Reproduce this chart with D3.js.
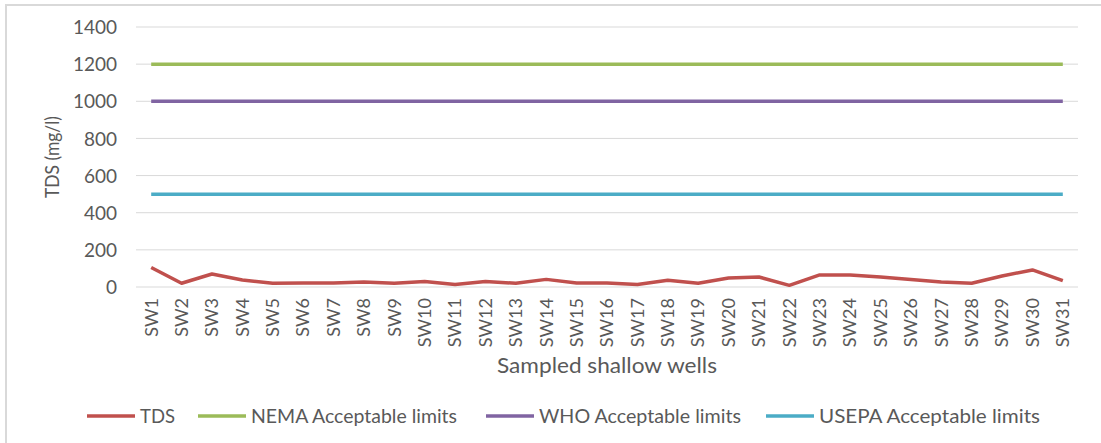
<!DOCTYPE html>
<html><head><meta charset="utf-8">
<script src="https://cdn.jsdelivr.net/npm/d3@7"></script>
<style>body{margin:0;background:#fff}svg{display:block}text{font-family:Lato,"Open Sans",sans-serif;fill:#595959}</style>
</head><body><svg id="c" width="1101" height="443"></svg>
<script>
const wells = d3.range(1,32).map(i=>"SW"+i);
const tds = [105,20,70,38,20,21,21,27,20,30,14,29,20,41,21,21,14,36,20,48,54,9,65,65,54,40,27,20,59,92,34];
const nema = 1200, who = 1000, usepa = 500;
const yTicks = [0,200,400,600,800,1000,1200,1400];
const seriesNames = ["TDS","NEMA Acceptable limits","WHO Acceptable limits","USEPA Acceptable limits"];
const colors = ["#c0504d","#9bbb59","#8064a2","#4bacc6"];

const svg = d3.select("#c");
// border
svg.append("path").attr("d","M6,443 L6,5 L1101,5").attr("fill","none").attr("stroke","#d9d9d9").attr("stroke-width",2);

const x = d3.scaleBand().domain(wells).range([136,1078]);
const y = d3.scaleLinear().domain([0,1400]).range([287,27]);
const cx = d => x(d)+x.bandwidth()/2;

// grid
svg.append("g").selectAll("line").data(yTicks).join("line")
  .attr("x1",136).attr("x2",1078).attr("y1",d=>y(d)).attr("y2",d=>y(d))
  .attr("stroke","#d9d9d9").attr("stroke-width",1);

// y axis
const ya = svg.append("g").attr("transform","translate(136,0)")
  .call(d3.axisLeft(y).tickValues(yTicks).tickFormat(d3.format("d")).tickSize(0).tickPadding(19));
ya.select(".domain").remove();
ya.selectAll("text").style("font-size","19px").style("fill","#595959").attr("dy","0.35em");

// x axis
const xa = svg.append("g").attr("transform","translate(0,287)")
  .call(d3.axisBottom(x).tickSize(0));
xa.select(".domain").remove();
xa.selectAll("text").style("font-size","18px").style("fill","#595959")
  .attr("text-anchor","end").attr("transform","rotate(-90)")
  .attr("x",-11).attr("y",0).attr("dy","0.35em");

// limit lines
const limits = [nema, who, usepa];
const line = d3.line().x(d=>cx(d.w)).y(d=>y(d.v));
limits.forEach((v,i)=>{
  svg.append("path").datum(wells.map(w=>({w,v})))
    .attr("d",line).attr("fill","none").attr("stroke",colors[i+1]).attr("stroke-width",3.5);
});
svg.append("path").datum(wells.map((w,i)=>({w,v:tds[i]})))
  .attr("d",line).attr("fill","none").attr("stroke",colors[0]).attr("stroke-width",3.5)
  .attr("stroke-linejoin","round");

// axis titles
svg.append("text").attr("transform","translate(59,157) rotate(-90)").attr("text-anchor","middle")
  .style("font-size","19px").attr("textLength",82).attr("lengthAdjust","spacingAndGlyphs").text("TDS (mg/l)");
svg.append("text").attr("x",607).attr("y",366).attr("dy","0.35em").attr("text-anchor","middle")
  .style("font-size","21px").attr("textLength",220).attr("lengthAdjust","spacingAndGlyphs").text("Sampled shallow wells");

// legend
const lx = [87,198,486,766];
const lw = [35,206,202,221];
const lg = svg.append("g");
seriesNames.forEach((n,i)=>{
  lg.append("line").attr("x1",lx[i]).attr("x2",lx[i]+48).attr("y1",416).attr("y2",416)
    .attr("stroke",colors[i]).attr("stroke-width",3.5);
  lg.append("text").attr("x",lx[i]+53).attr("y",416).attr("dy","0.35em")
    .style("font-size","19px").attr("textLength",lw[i]).attr("lengthAdjust","spacingAndGlyphs").text(n);
});
</script></body></html>
